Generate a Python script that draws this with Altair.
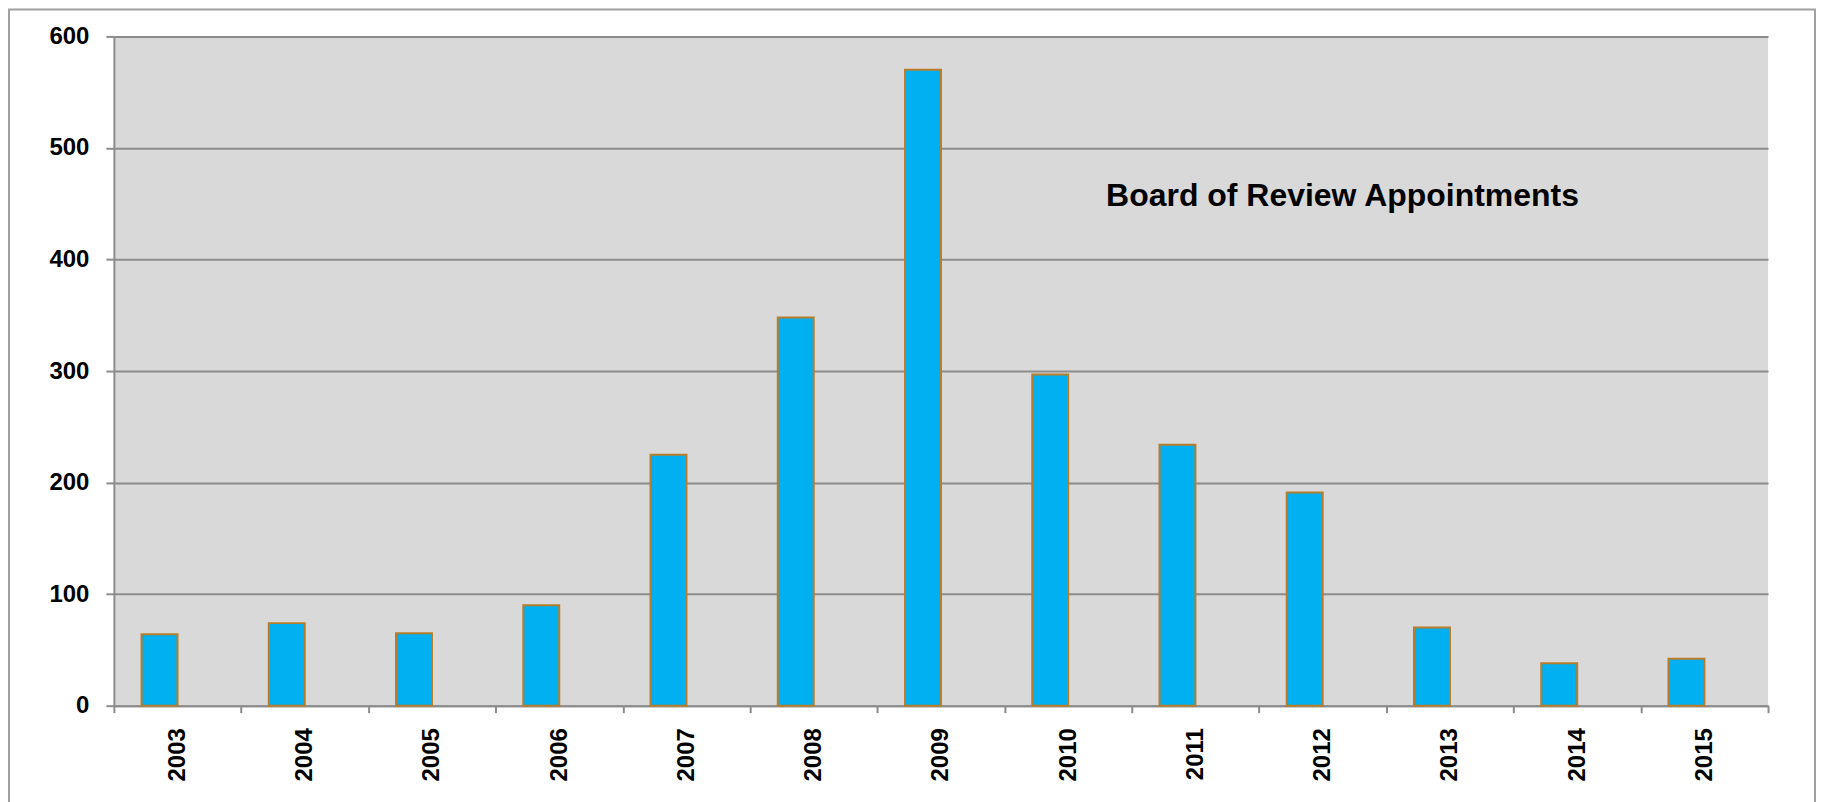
import altair as alt
import pandas as pd

years = ["2003", "2004", "2005", "2006", "2007", "2008", "2009",
         "2010", "2011", "2012", "2013", "2014", "2015"]
appointments = [64, 74, 65, 90, 225, 348, 570, 297, 234, 191, 70, 38, 42]
y_ticks = [0, 100, 200, 300, 400, 500, 600]
title_text = ["Board of Review Appointments"]

df = pd.DataFrame({"year": years, "count": appointments})

W, H = 1656, 670
FONT = "Liberation Sans"
GRAY = "#8c8c8c"

x_enc = alt.X(
    "year:N",
    sort=years,
    title=None,
    scale=alt.Scale(paddingInner=0, paddingOuter=0),
    axis=alt.Axis(
        labelAngle=-90,
        labelFont=FONT,
        labelFontSize=24,
        labelFontWeight="bold",
        labelColor="#000000",
        labelPadding=15,
        tickBand="extent",
        tickSize=7,
        tickColor=GRAY,
        tickWidth=2,
        domainColor=GRAY,
        domainWidth=2,
        grid=False,
    ),
)

y_enc = alt.Y(
    "count:Q",
    title=None,
    scale=alt.Scale(domain=[0, 600], nice=False),
    axis=alt.Axis(
        values=y_ticks,
        labelFont=FONT,
        labelFontSize=24,
        labelFontWeight="bold",
        labelColor="#000000",
        labelPadding=17,
        tickSize=8,
        tickColor=GRAY,
        tickWidth=2,
        domainColor=GRAY,
        domainWidth=2,
        grid=True,
        gridColor=GRAY,
        gridWidth=2,
        gridOpacity=1,
    ),
)

bars = alt.Chart(df).mark_bar(
    size=36,
    xOffset=-18,
    color="#00b0f0",
    stroke="#b87d2a",
    strokeWidth=2,
).encode(x=x_enc, y=y_enc)

title = alt.Chart(pd.DataFrame({"t": title_text})).mark_text(
    font=FONT,
    fontSize=32,
    fontWeight="bold",
    color="#000000",
    align="center",
    baseline="alphabetic",
).encode(
    text="t:N",
    x=alt.value(1230),
    y=alt.value(170),
)

frame = alt.Chart(pd.DataFrame({"t": [0]})).mark_rect(
    fill=None,
    stroke="#a0a0a0",
    strokeWidth=2,
    clip=False,
).encode(
    x=alt.value(-105),
    x2=alt.value(1703),
    y=alt.value(-27),
    y2=alt.value(820),
)

chart = alt.layer(frame, bars, title).properties(
    width=W,
    height=H,
    autosize=alt.AutoSizeParams(type="none"),
    padding={"left": 106, "top": 28, "right": 50, "bottom": 96},
    background="#ffffff",
).configure_view(
    fill="#d9d9d9",
    stroke=None,
)

chart.save("out.html", embed_options={"renderer": "svg", "actions": False})
